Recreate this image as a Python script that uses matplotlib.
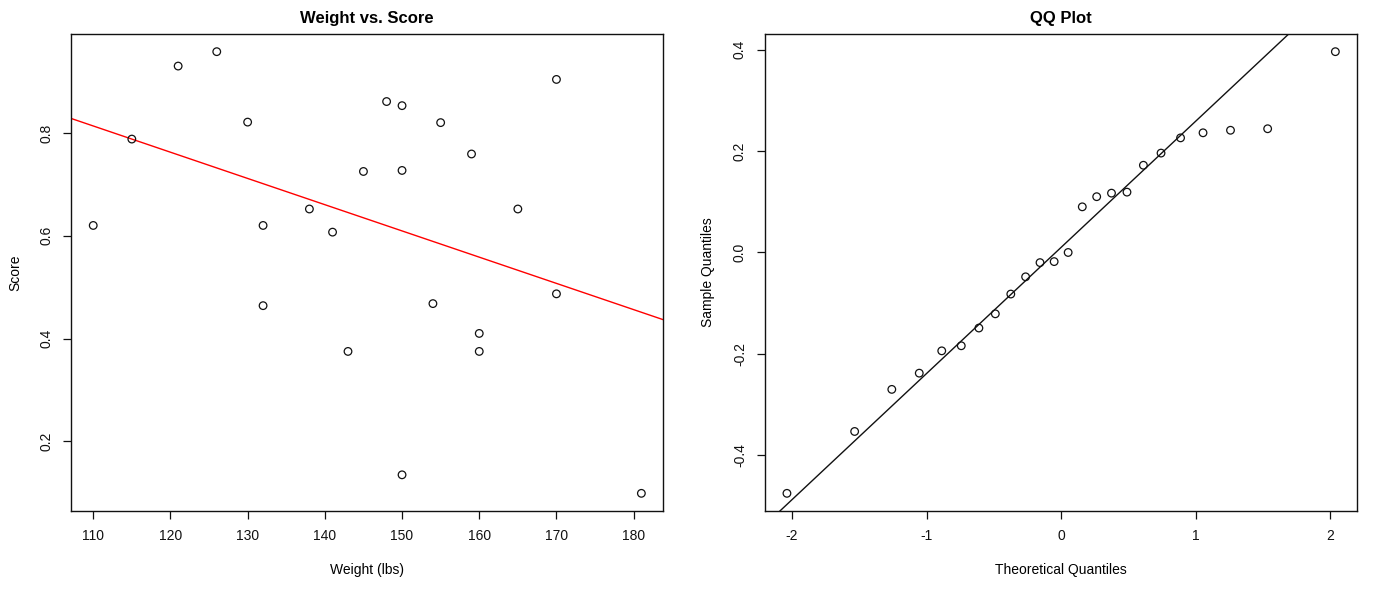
"""Weight vs. Score scatter with fitted line, plus a normal QQ plot of the residuals."""

import numpy as np
import matplotlib
matplotlib.use("Agg")
import matplotlib.pyplot as plt

plt.rcParams["font.family"] = ["Liberation Sans", "DejaVu Sans"]
plt.rcParams["axes.unicode_minus"] = False

# scatter data
weight = [110, 115, 121, 126, 130, 132, 132, 138, 141, 143, 145, 148,
          150, 150, 150, 154, 155, 159, 160, 160, 165, 170, 170, 181]
score = [0.620, 0.788, 0.930, 0.958, 0.821, 0.620, 0.464, 0.652, 0.607, 0.375,
         0.725, 0.861, 0.853, 0.727, 0.135, 0.468, 0.820, 0.759, 0.410, 0.375,
         0.652, 0.904, 0.487, 0.099]

# QQ plot
theo_q = [-2.037, -1.534, -1.258, -1.054, -0.887, -0.742, -0.611, -0.489,
          -0.374, -0.264, -0.157, -0.052, 0.052, 0.157, 0.264, 0.374,
          0.489, 0.611, 0.742, 0.887, 1.054, 1.258, 1.534, 2.037]
sample_q = [-0.475, -0.353, -0.270, -0.238, -0.194, -0.184, -0.149, -0.121,
            -0.082, -0.048, -0.020, -0.018, 0.000, 0.090, 0.110, 0.117,
            0.119, 0.172, 0.196, 0.226, 0.236, 0.241, 0.244, 0.396]

left_xticks = [110, 120, 130, 140, 150, 160, 170, 180]
left_yticks = [0.2, 0.4, 0.6, 0.8]
right_xticks = [-2, -1, 0, 1, 2]
right_yticks = [-0.4, -0.2, 0.0, 0.2, 0.4]

W, H = 1382, 594


def r_limits(vals):
    lo, hi = min(vals), max(vals)
    pad = 0.04 * (hi - lo)
    return lo - pad, hi + pad


def r_style(ax, xticks, yticks, yfmt):
    ax.set_xticks(xticks)
    ax.set_yticks(yticks)
    ax.set_yticklabels([yfmt.format(v) for v in yticks])
    ax.tick_params(direction="out", length=6, width=0.9, pad=7,
                   labelsize=10, colors="#111")
    ax.tick_params(axis="y", labelrotation=90)
    for lab in ax.get_yticklabels():
        lab.set_va("center")
    for sp in ax.spines.values():
        sp.set_linewidth(1.0)
        sp.set_color("#111")


def px_axes(x0, x1, y0, y1):
    return [x0 / W, 1 - y1 / H, (x1 - x0) / W, (y1 - y0) / H]


fig = plt.figure(figsize=(W / 100, H / 100), dpi=100)

# --- left: scatter + regression line
ax = fig.add_axes(px_axes(71.3, 663.3, 34, 511))
ax.scatter(weight, score, s=30, facecolors="none", edgecolors="#111",
           linewidths=0.9, zorder=3)
slope, intercept = np.polyfit(weight, score, 1)
ax.axline((0, intercept), slope=slope, color="red", lw=1)
ax.set_xlim(*r_limits(weight))
ax.set_ylim(*r_limits(score))
r_style(ax, left_xticks, left_yticks, "{:.1f}")
ax.set_title("Weight vs. Score", fontsize=12, fontweight="bold", pad=8)
ax.set_xlabel("Weight (lbs)", fontsize=10, va="center")
ax.set_ylabel("Score", fontsize=10, va="center")
ax.xaxis.set_label_coords(0.5, (511 - 570) / 477)
ax.yaxis.set_label_coords((15 - 71.3) / 592, 0.5)

# --- right: QQ plot + qqline through the quartiles
ax = fig.add_axes(px_axes(765, 1357.3, 34, 511))
ax.scatter(theo_q, sample_q, s=30, facecolors="none", edgecolors="#111",
           linewidths=0.9, zorder=3)
q25, q75 = np.quantile(sample_q, [0.25, 0.75])
z25, z75 = -0.6745, 0.6745
qq_slope = (q75 - q25) / (z75 - z25)
qq_int = q25 - qq_slope * z25
ax.axline((0, qq_int), slope=qq_slope, color="#111", lw=1)
ax.set_xlim(*r_limits(theo_q))
ax.set_ylim(*r_limits(sample_q))
r_style(ax, right_xticks, right_yticks, "{:.1f}")
ax.set_title("QQ Plot", fontsize=12, fontweight="bold", pad=8)
ax.set_xlabel("Theoretical Quantiles", fontsize=10, va="center")
ax.set_ylabel("Sample Quantiles", fontsize=10, va="center")
ax.xaxis.set_label_coords(0.5, (511 - 570) / 477)
ax.yaxis.set_label_coords((708 - 765) / 592.3, 0.5)

fig.savefig("out.png", dpi=100)
